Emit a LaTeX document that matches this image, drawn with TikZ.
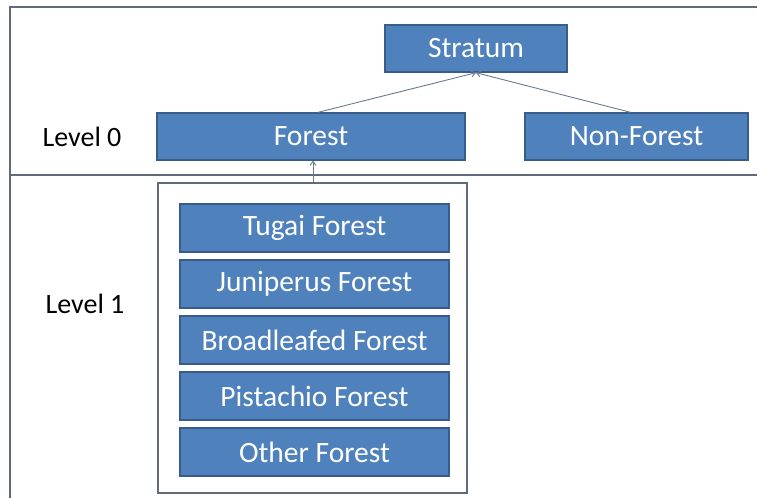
\documentclass[tikz,border=0pt]{standalone}
\usepackage{fontspec}
\setmainfont{Carlito}
\usetikzlibrary{arrows.meta}
\definecolor{boxfill}{HTML}{4F81BD}
\definecolor{boxline}{HTML}{385D8A}
\definecolor{frameline}{HTML}{5F6B7A}
\definecolor{arrowline}{HTML}{6A7A90}
\begin{document}
\begin{tikzpicture}[x=1pt,y=-1pt,
  bluebox/.style={draw=boxline, fill=boxfill, line width=1.4pt, text=white,
    font=\fontsize{29.5}{32}\selectfont, inner sep=0pt, anchor=center},
  framebox/.style={draw=frameline, line width=1.4pt, fill=none, inner sep=0pt},
  levellabel/.style={font=\fontsize{28}{32}\selectfont, text=black, inner sep=0pt},
  conn/.style={draw=arrowline, line width=0.9pt, -{Straight Barb[length=4pt,width=6pt]}}
]
\useasboundingbox (0,0) rectangle (760,498);
% outer frame
\draw[frameline, line width=1.3pt] (10,498) -- (10,7) -- (757,7);
\draw[frameline, line width=1.3pt] (10,175) -- (757,175);
% level labels
\node[levellabel] (lvl0) at (82,137) {Level 0};
\node[levellabel] (lvl1) at (85,304) {Level 1};
% level 0 boxes
\node[bluebox, minimum width=182pt, minimum height=47pt] (stratum) at (476,48.5) {Stratum};
\node[bluebox, minimum width=308pt, minimum height=47pt] (forest) at (311,136.5) {Forest};
\node[bluebox, minimum width=223pt, minimum height=47pt] (nonforest) at (636.5,136.5) {Non-Forest};
% level 1 container
\node[framebox, minimum width=309pt, minimum height=310pt] (cont) at (312.5,338) {};
\node[bluebox, minimum width=269pt, minimum height=48pt] (tugai) at (314.5,228) {Tugai Forest};
\node[bluebox, minimum width=269pt, minimum height=48pt] (juni) at (314.5,284) {Juniperus Forest};
\node[bluebox, minimum width=269pt, minimum height=48pt] (broad) at (314.5,340) {Broadleafed Forest};
\node[bluebox, minimum width=269pt, minimum height=48pt] (pist) at (314.5,396) {Pistachio Forest};
\node[bluebox, minimum width=269pt, minimum height=48pt] (other) at (314.5,452) {Other Forest};
% connectors
\coordinate (sbot) at ([xshift=0pt]stratum.south);
\draw[conn] ([xshift=7pt]forest.north) -- (sbot);
\draw[conn] ([xshift=-6pt]nonforest.north) -- (sbot);
\draw[conn] ([xshift=0.5pt]cont.north) -- ([xshift=2pt]forest.south);
\end{tikzpicture}
\end{document}
